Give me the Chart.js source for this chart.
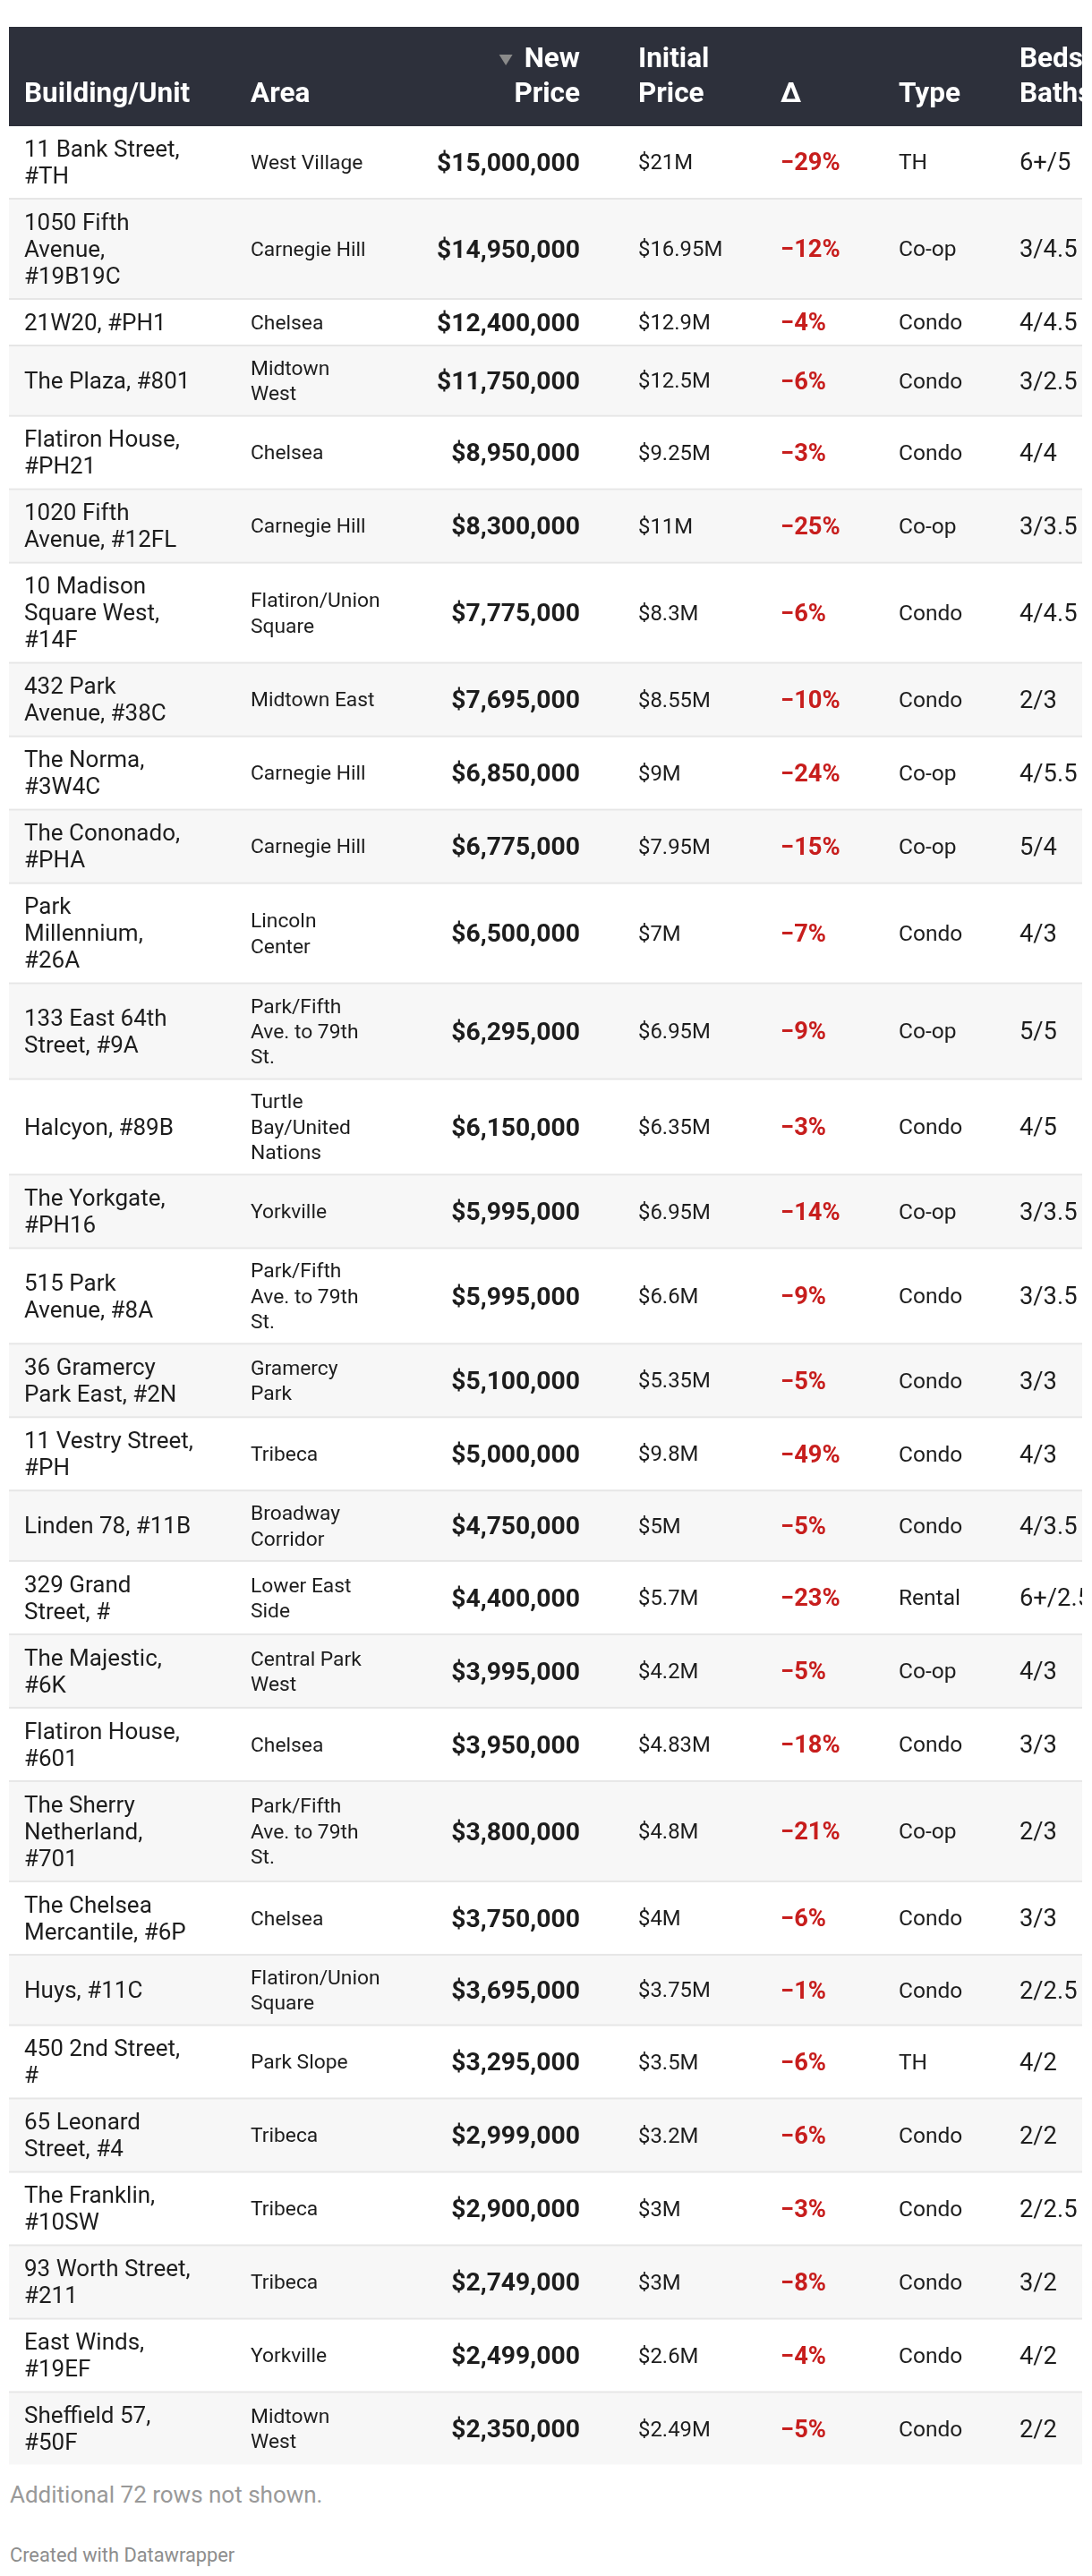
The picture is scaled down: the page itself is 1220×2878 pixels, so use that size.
<!DOCTYPE html>
<html>
<head>
<meta charset="utf-8">
<title>Price cuts</title>
<script src="https://cdn.jsdelivr.net/npm/chart.js@4.4.1/dist/chart.umd.min.js"></script>
<style>
  html, body { margin: 0; padding: 0; background: #fff; }
  body { width: 1220px; height: 2878px; position: relative; overflow: hidden; font-family: Roboto, sans-serif; }
  #table-wrap { position: absolute; left: 0; top: 30px; width: 1220px; }
  .note { position: absolute; left: 11px; white-space: nowrap; }
  #notes { top: 2774px; font-size: 26px; line-height: 26px; color: #999; }
  #credit { top: 2844px; font-size: 21.8px; line-height: 21.8px; color: #8d8d8d; }
</style>
</head>
<body>
<div id="table-wrap"><canvas id="table-chart"></canvas></div>
<div class="note" id="notes">Additional 72 rows not shown.</div>
<div class="note" id="credit">Created with Datawrapper</div>
<script>
// Table content
const headers = [['Building/Unit'], ['Area'], ['New', 'Price'], ['Initial', 'Price'], ['Δ'], ['Type'], ['Beds/', 'Baths']];

const buildings = [
    ['11 Bank Street,', '#TH'], ['1050 Fifth', 'Avenue,', '#19B19C'], ['21W20, #PH1'], ['The Plaza, #801'],
    ['Flatiron House,', '#PH21'], ['1020 Fifth', 'Avenue, #12FL'], ['10 Madison', 'Square West,', '#14F'],
    ['432 Park', 'Avenue, #38C'], ['The Norma,', '#3W4C'], ['The Cononado,', '#PHA'], ['Park', 'Millennium,', '#26A'],
    ['133 East 64th', 'Street, #9A'], ['Halcyon, #89B'], ['The Yorkgate,', '#PH16'], ['515 Park', 'Avenue, #8A'],
    ['36 Gramercy', 'Park East, #2N'], ['11 Vestry Street,', '#PH'], ['Linden 78, #11B'], ['329 Grand', 'Street, #'],
    ['The Majestic,', '#6K'], ['Flatiron House,', '#601'], ['The Sherry', 'Netherland,', '#701'],
    ['The Chelsea', 'Mercantile, #6P'], ['Huys, #11C'], ['450 2nd Street,', '#'], ['65 Leonard', 'Street, #4'],
    ['The Franklin,', '#10SW'], ['93 Worth Street,', '#211'], ['East Winds,', '#19EF'], ['Sheffield 57,', '#50F']
];

const areas = [
    ['West Village'], ['Carnegie Hill'], ['Chelsea'], ['Midtown', 'West'], ['Chelsea'], ['Carnegie Hill'],
    ['Flatiron/Union', 'Square'], ['Midtown East'], ['Carnegie Hill'], ['Carnegie Hill'], ['Lincoln', 'Center'],
    ['Park/Fifth', 'Ave. to 79th', 'St.'], ['Turtle', 'Bay/United', 'Nations'], ['Yorkville'],
    ['Park/Fifth', 'Ave. to 79th', 'St.'], ['Gramercy', 'Park'], ['Tribeca'], ['Broadway', 'Corridor'],
    ['Lower East', 'Side'], ['Central Park', 'West'], ['Chelsea'], ['Park/Fifth', 'Ave. to 79th', 'St.'],
    ['Chelsea'], ['Flatiron/Union', 'Square'], ['Park Slope'], ['Tribeca'], ['Tribeca'], ['Tribeca'],
    ['Yorkville'], ['Midtown', 'West']
];

const newPrices = [15000000, 14950000, 12400000, 11750000, 8950000, 8300000, 7775000, 7695000, 6850000, 6775000,
    6500000, 6295000, 6150000, 5995000, 5995000, 5100000, 5000000, 4750000, 4400000, 3995000,
    3950000, 3800000, 3750000, 3695000, 3295000, 2999000, 2900000, 2749000, 2499000, 2350000];

// initial asking price, in $M
const initialPrices = [21, 16.95, 12.9, 12.5, 9.25, 11, 8.3, 8.55, 9, 7.95, 7, 6.95, 6.35, 6.95, 6.6,
    5.35, 9.8, 5, 5.7, 4.2, 4.83, 4.8, 4, 3.75, 3.5, 3.2, 3, 3, 2.6, 2.49];

// change in %
const changes = [-29, -12, -4, -6, -3, -25, -6, -10, -24, -15, -7, -9, -3, -14, -9,
    -5, -49, -5, -23, -5, -18, -21, -6, -1, -6, -6, -3, -8, -4, -5];

const types = ['TH', 'Co-op', 'Condo', 'Condo', 'Condo', 'Co-op', 'Condo', 'Condo', 'Co-op', 'Co-op',
    'Condo', 'Co-op', 'Condo', 'Co-op', 'Condo', 'Condo', 'Condo', 'Condo', 'Rental', 'Co-op',
    'Condo', 'Co-op', 'Condo', 'Condo', 'TH', 'Condo', 'Condo', 'Condo', 'Condo', 'Condo'];

const bedsBaths = ['6+/5', '3/4.5', '4/4.5', '3/2.5', '4/4', '3/3.5', '4/4.5', '2/3', '4/5.5', '5/4',
    '4/3', '5/5', '4/5', '3/3.5', '3/3.5', '3/3', '4/3', '4/3.5', '6+/2.5', '4/3',
    '3/3', '2/3', '3/3', '2/2.5', '4/2', '2/2', '2/2.5', '3/2', '4/2', '2/2'];

// Layout
const WIDTH = 1220;
const TABLE_LEFT = 10;
const TABLE_RIGHT = 1209;
const HEADER_H = 111;
const ROW_PAD = 20;
const SEP = 2;
const FONT = 'Roboto, "Noto Sans", sans-serif';
const TEXT = '#1d1d1d';

const columns = [
    { x: 27,  align: 'left',  size: 26,   weight: 400, lh: 30,   color: TEXT, lines: i => buildings[i] },
    { x: 280, align: 'left',  size: 22.8, weight: 400, lh: 28.3, color: TEXT, lines: i => areas[i] },
    { x: 648, align: 'right', size: 28.3, weight: 700, lh: 30,   color: TEXT, lines: i => ['$' + newPrices[i].toLocaleString('en-US')] },
    { x: 713, align: 'left',  size: 23.9, weight: 400, lh: 30,   color: TEXT, lines: i => ['$' + initialPrices[i] + 'M'] },
    { x: 872, align: 'left',  size: 27.3, weight: 700, lh: 30,   color: '#c71e1d', lines: i => ['\u2212' + Math.abs(changes[i]) + '%'] },
    { x: 1004, align: 'left', size: 24.5, weight: 400, lh: 30,   color: TEXT, lines: i => [types[i]] },
    { x: 1139, align: 'left', size: 27.3, weight: 400, lh: 30,   color: TEXT, lines: i => [bedsBaths[i]] }
];

// row geometry from the number of wrapped lines in each row
const rowTops = [];
const rowHeights = [];
let cursor = HEADER_H;
buildings.forEach((b, i) => {
    if (i > 0) cursor += SEP;
    const h = Math.max(...columns.map(c => c.lines(i).length * c.lh)) + ROW_PAD;
    rowTops.push(cursor);
    rowHeights.push(h);
    cursor += h;
});
const TOTAL_H = Math.ceil(cursor);

const tablePlugin = {
    id: 'tableCells',
    beforeDatasetsDraw(chart) {
        const { ctx, scales: { x, y } } = chart;
        const xl = x.getPixelForValue(TABLE_LEFT);
        const xr = x.getPixelForValue(TABLE_RIGHT);
        ctx.save();
        ctx.fillStyle = '#2d303b';
        ctx.fillRect(xl, y.getPixelForValue(0), xr - xl, y.getPixelForValue(HEADER_H) - y.getPixelForValue(0));
        rowTops.forEach((top, i) => {
            const y0 = y.getPixelForValue(top);
            const y1 = y.getPixelForValue(top + rowHeights[i]);
            if (i % 2 === 1) {
                ctx.fillStyle = '#f7f7f7';
                ctx.fillRect(xl, y0, xr - xl, y1 - y0);
            }
            if (i > 0) {
                ctx.fillStyle = '#e6e6e6';
                ctx.fillRect(xl, y.getPixelForValue(top - SEP), xr - xl, y0 - y.getPixelForValue(top - SEP));
            }
        });
        ctx.restore();
    },
    afterDatasetsDraw(chart) {
        const { ctx, scales: { x, y } } = chart;
        const xl = x.getPixelForValue(TABLE_LEFT);
        const xr = x.getPixelForValue(TABLE_RIGHT);
        ctx.save();
        ctx.beginPath();
        ctx.rect(xl, 0, xr - xl, chart.height);
        ctx.clip();
        ctx.textBaseline = 'alphabetic';

        // header labels, bottom aligned
        const hSize = 31.5, hLh = 39;
        const lastBase = y.getPixelForValue(HEADER_H - 27);
        ctx.font = `700 ${hSize}px ${FONT}`;
        ctx.fillStyle = '#ffffff';
        headers.forEach((lines, c) => {
            const col = columns[c];
            const px = x.getPixelForValue(col.x);
            ctx.textAlign = col.align;
            lines.forEach((t, k) => {
                ctx.fillText(t, px, lastBase - (lines.length - 1 - k) * hLh);
            });
        });
        // sort marker next to "New"
        const newW = ctx.measureText(headers[2][0]).width;
        const tr = x.getPixelForValue(columns[2].x) - newW - 13;
        const tTop = lastBase - hLh - 14;
        ctx.fillStyle = '#8a8a8a';
        ctx.beginPath();
        ctx.moveTo(tr - 15, tTop);
        ctx.lineTo(tr, tTop);
        ctx.lineTo(tr - 7.5, tTop + 12);
        ctx.closePath();
        ctx.fill();

        // body cells, anchored at the dataset points
        chart.data.datasets.forEach((ds, c) => {
            const col = columns[c];
            const meta = chart.getDatasetMeta(c);
            ctx.font = `${col.weight} ${col.size}px ${FONT}`;
            ctx.fillStyle = col.color;
            ctx.textAlign = col.align;
            meta.data.forEach((pt, i) => {
                const lines = col.lines(i);
                lines.forEach((t, k) => {
                    const cy = pt.y + (k - (lines.length - 1) / 2) * col.lh;
                    ctx.fillText(t, pt.x, cy + 0.3415 * col.size);
                });
            });
        });
        ctx.restore();
    }
};

const canvas = document.getElementById('table-chart');
canvas.width = WIDTH;
canvas.height = TOTAL_H;
canvas.style.width = WIDTH + 'px';
canvas.style.height = TOTAL_H + 'px';

const tableChart = new Chart(canvas.getContext('2d'), {
    type: 'scatter',
    data: {
        datasets: columns.map((col, c) => ({
            label: headers[c].join(' '),
            data: buildings.map((b, i) => ({ x: col.x, y: rowTops[i] + rowHeights[i] / 2 })),
            pointRadius: 0,
            pointHoverRadius: 0
        }))
    },
    options: {
        responsive: false,
        animation: false,
        events: [],
        layout: { padding: 0 },
        plugins: { legend: { display: false }, tooltip: { enabled: false } },
        scales: {
            x: { type: 'linear', min: 0, max: WIDTH, display: false },
            y: { type: 'linear', min: 0, max: TOTAL_H, reverse: true, display: false }
        }
    },
    plugins: [tablePlugin]
});
</script>
</body>
</html>
